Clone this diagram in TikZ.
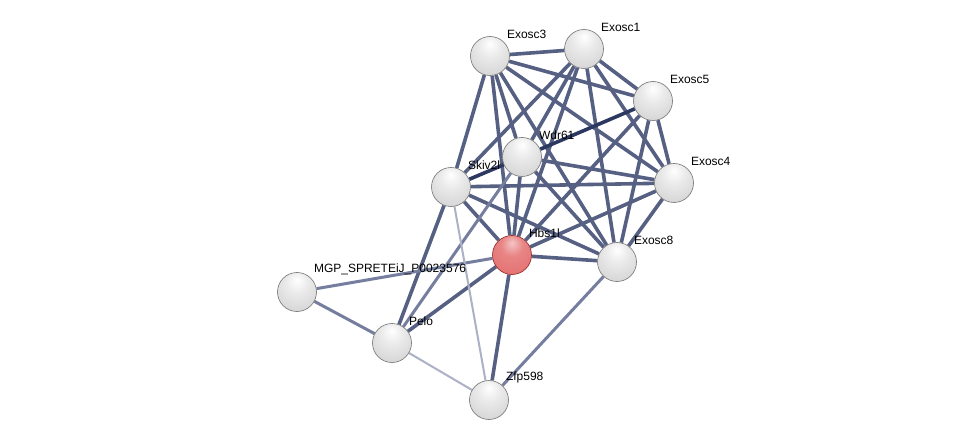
\documentclass[tikz,border=0pt]{standalone}
\usepackage{fontspec}
\setmainfont{Liberation Sans}
\usetikzlibrary{backgrounds}
\definecolor{edgeblue}{RGB}{86,96,130}
\definecolor{edgedark}{RGB}{44,56,96}
\definecolor{edgemid}{RGB}{118,126,160}
\definecolor{edgelight}{RGB}{172,177,198}
\definecolor{hitred}{RGB}{228,112,112}
\definecolor{hitrim}{RGB}{140,36,36}
\pgfdeclareradialshading{sphgrey}{\pgfpoint{0bp}{16bp}}{color(0bp)=(white); color(14bp)=(black!8);
    color(36bp)=(black!17); color(50bp)=(black!26); color(60bp)=(black!50); color(70bp)=(black!62)}
\pgfdeclareradialshading{sphred}{\pgfpoint{0bp}{16bp}}{color(0bp)=(hitred!40!white); color(14bp)=(hitred!85!white);
    color(36bp)=(hitred); color(50bp)=(hitred!85!black); color(60bp)=(hitrim); color(70bp)=(hitrim)}

\begin{document}
\begin{tikzpicture}[x=1pt, y=-1pt, font=\fontsize{12}{14}\selectfont,
        prot/.style={circle, minimum size=39pt, inner sep=0pt, draw=black!55, line width=0.6pt,
            shading=sphgrey, label={[lbl]45:#1}},
        hit/.style={prot=#1, shading=sphred, draw=hitrim},
        lbl/.style={label distance=4pt, inner sep=0pt, text=black},
        lnk/.style={draw=edgeblue, line width=3.6pt},
        dk/.style={draw=edgedark, line width=3.6pt},
        md/.style={draw=edgemid, line width=3pt},
        lt/.style={draw=edgelight, line width=2pt}]
        % proteins
        \node[prot=Exosc3] (e3) at (490,56) {};
        \node[prot=Exosc1] (e1) at (584,49) {};
        \node[prot=Exosc5] (e5) at (653,101) {};
        \node[prot=Wdr61] (w) at (522,157) {};
        \node[prot=Skiv2l] (s) at (451,187) {};
        \node[prot=Exosc4] (e4) at (674,183) {};
        \node[hit=Hbs1l] (h) at (512,255) {};
        \node[prot=Exosc8] (e8) at (617,262) {};
        \node[prot=MGP\_SPRETEiJ\_P0023576] (m) at (297,292) {};
        \node[prot=Pelo] (p) at (392,343) {};
        \node[prot=Zfp598] (z) at (489,400) {};
        % links
        \begin{scope}[on background layer]
            \fill[white] (0,0) rectangle (976,446);
            \foreach \a/\b in {e3/e1, e3/e5, e3/e4, e3/e8, e3/w, e3/s, e3/h,
                e1/e5, e1/e4, e1/e8, e1/w, e1/s, e1/h,
                e5/e4, e5/e8, e5/h, e4/e8, e4/w, e4/s, e4/h,
                e8/w, e8/s, e8/h, w/h, s/h, s/p, h/p, h/z}
                \path[lnk] (\a) -- (\b);
            \foreach \a/\b in {s/w, w/e5}
                \path[dk] (\a) -- (\b);
            \foreach \a/\b in {m/h, m/p, e8/z, w/p}
                \path[md] (\a) -- (\b);
            \foreach \a/\b in {s/z, p/z}
                \path[lt] (\a) -- (\b);
        \end{scope}
    \end{tikzpicture}
\end{document}
